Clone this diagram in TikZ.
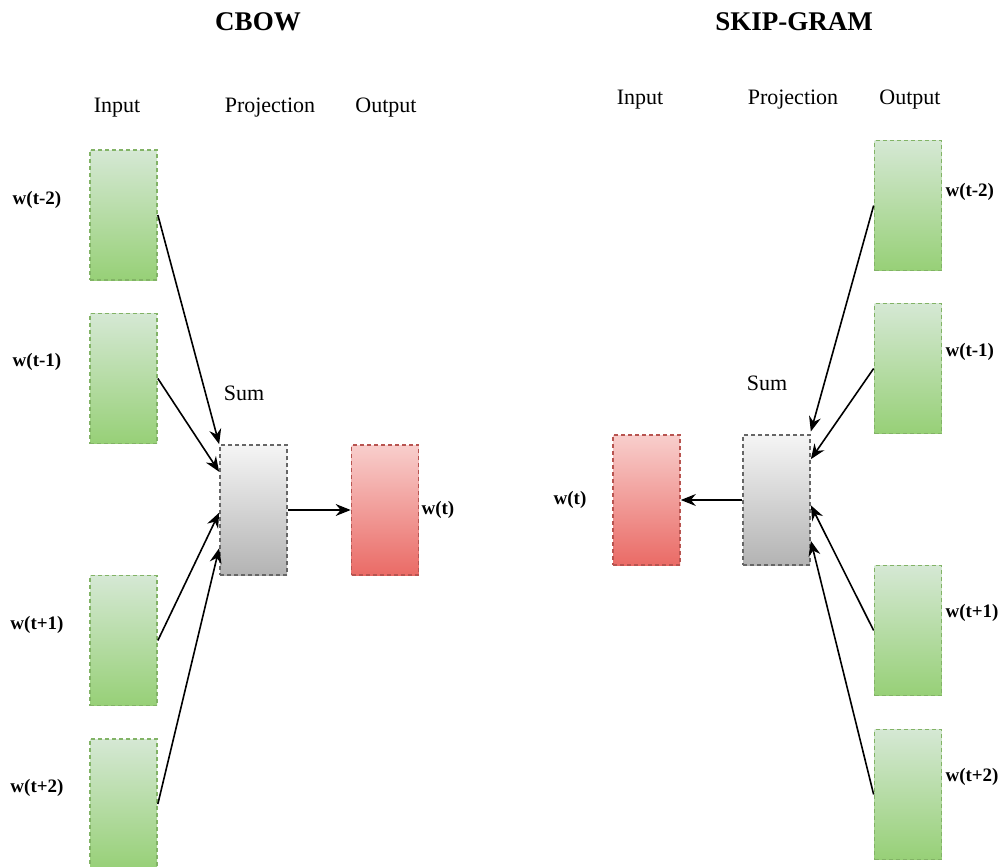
\documentclass[tikz,border=0pt]{standalone}
\usepackage{fontspec}
\setmainfont{Liberation Serif}
\usetikzlibrary{arrows.meta,calc}
\begin{document}
\begin{tikzpicture}[x=1pt,y=-1pt,
  box/.style={rectangle,minimum width=67pt,minimum height=130pt,inner sep=0pt,
    line width=1.7pt,dash pattern=on 4pt off 3pt},
  gbox/.style={box,draw={rgb,255:red,130;green,179;blue,102},top color={rgb,255:red,213;green,232;blue,212},bottom color={rgb,255:red,151;green,208;blue,119}},
  rbox/.style={box,draw={rgb,255:red,184;green,84;blue,80},top color={rgb,255:red,248;green,206;blue,204},bottom color={rgb,255:red,234;green,107;blue,102}},
  sbox/.style={box,draw={rgb,255:red,102;green,102;blue,102},top color={rgb,255:red,245;green,245;blue,245},bottom color={rgb,255:red,179;green,179;blue,179}},
  conn/.style={line width=1.6pt,-{Stealth[length=15pt,width=12pt,inset=5pt]}},
  title/.style={font=\fontsize{27}{30}\selectfont\bfseries},
  head/.style={font=\fontsize{22}{25}\selectfont},
  wlab/.style={font=\fontsize{19}{22}\selectfont\bfseries},
]
\useasboundingbox (0,0) rectangle (1002,867);
% ---------- CBOW ----------
\node[title] (t1) at (258,22) {CBOW};
\node[head] (i1) at (117,108) {Input};
\node[head] (p1) at (270,108) {Projection};
\node[head] (o1) at (386,108) {Output};
\node[gbox] (a1) at (123.5,215) {};
\node[gbox] (a2) at (123.5,378.5) {};
\node[gbox] (a3) at (123.5,640.5) {};
\node[gbox] (a4) at (123.5,804) {};
\node[sbox] (s1) at (253.5,510) {};
\node[rbox] (r1) at (385,510) {};
\node[head] (sum1) at (244,393) {Sum};
\node[wlab] (la1) at (37,200) {w(t-2)};
\node[wlab] (la2) at (37,362) {w(t-1)};
\node[wlab] (la3) at (37,625) {w(t+1)};
\node[wlab] (la4) at (37,788) {w(t+2)};
\node[wlab,anchor=west] (lr1) at (418,510) {w(t)};
\draw[conn] (a1.east) -- ($(s1.north west)!0.0!(s1.south west)$);
\draw[conn] (a2.east) -- ($(s1.north west)!0.21!(s1.south west)$);
\draw[conn] (a3.east) -- ($(s1.north west)!0.52!(s1.south west)$);
\draw[conn] (a4.east) -- ($(s1.north west)!0.79!(s1.south west)$);
\draw[conn] (s1.east) -- (r1.west);
% ---------- SKIP-GRAM ----------
\node[title] (t2) at (794,22) {SKIP-GRAM};
\node[head] (i2) at (640,100) {Input};
\node[head] (p2) at (793,100) {Projection};
\node[head] (o2) at (910,100) {Output};
\node[gbox] (b1) at (908,205.5) {};
\node[gbox] (b2) at (908,368.5) {};
\node[gbox] (b3) at (908,630.5) {};
\node[gbox] (b4) at (908,794.5) {};
\node[sbox] (s2) at (776.5,500) {};
\node[rbox] (r2) at (646.5,500) {};
\node[head] (sum2) at (767,383) {Sum};
\node[wlab,anchor=west] (lb1) at (942,192) {w(t-2)};
\node[wlab,anchor=west] (lb2) at (942,352) {w(t-1)};
\node[wlab,anchor=west] (lb3) at (942,613) {w(t+1)};
\node[wlab,anchor=west] (lb4) at (942,777) {w(t+2)};
\node[wlab] (lw2) at (570,500) {w(t)};
\draw[conn] (b1.west) -- ($(s2.north east)!-0.02!(s2.south east)$);
\draw[conn] (b2.west) -- ($(s2.north east)!0.19!(s2.south east)$);
\draw[conn] (b3.west) -- ($(s2.north east)!0.54!(s2.south east)$);
\draw[conn] (b4.west) -- ($(s2.north east)!0.81!(s2.south east)$);
\draw[conn] (s2.west) -- (r2.east);
\end{tikzpicture}
\end{document}
